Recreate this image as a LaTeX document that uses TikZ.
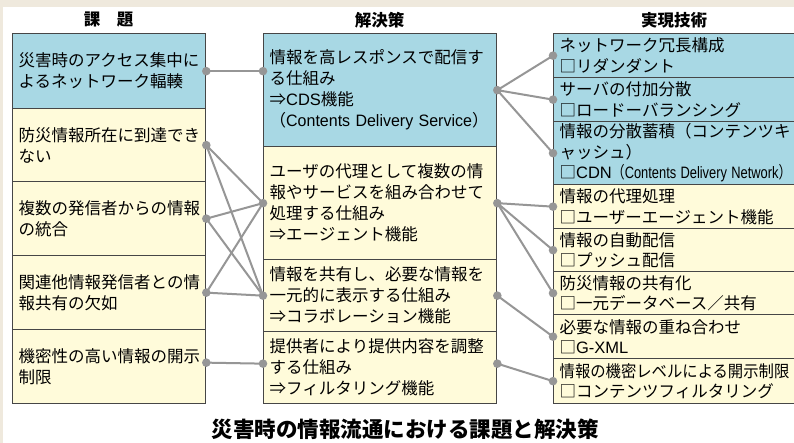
\documentclass[tikz,border=0pt]{standalone}
\usepackage{fontspec}
\setmainfont{Noto Sans CJK JP}
\newfontfamily\lat{Liberation Sans}
\definecolor{bgbeige}{RGB}{239,233,221}
\definecolor{cblue}{RGB}{168,216,228}
\definecolor{cyellow}{RGB}{255,251,218}
\definecolor{boxline}{RGB}{70,70,70}
\definecolor{conngray}{RGB}{150,150,150}
\begin{document}
\begin{tikzpicture}[x=1pt,y=-1pt,
  box/.style={draw=boxline, line width=1.3pt, anchor=north west, inner xsep=6pt, inner ysep=0pt,
    align=left, font=\fontsize{16.5}{21}\selectfont},
  lbox/.style={box, minimum width=193pt, text width=181pt},
  mbox/.style={box, minimum width=233pt, text width=221pt},
  rbox/.style={box, minimum width=250pt, text width=238pt, font=\fontsize{16.5}{20.5}\selectfont},
  head/.style={font=\fontsize{16.5}{20}\selectfont\bfseries},
  conn/.style={draw=conngray, line width=2pt},
  ]
\fill[bgbeige] (0,0) rectangle (794,443);
\fill[white] (3,7) rectangle (794,443);
\useasboundingbox (0,0) rectangle (794,443);

\node[head] (h1) at (108.5,20) {課　題};
\node[head] (h2) at (379.5,20) {解決策};
\node[head] (h3) at (674,20) {実現技術};

\begin{scope}
\clip (0,0) rectangle (794,443);
% left column
\node[lbox, fill=cblue, minimum height=75pt] (L1) at (12,33) {災害時のアクセス集中に\\よるネットワーク輻輳};
\node[lbox, fill=cyellow, minimum height=73pt] (L2) at (12,108) {防災情報所在に到達でき\\ない};
\node[lbox, fill=cyellow, minimum height=74pt] (L3) at (12,181) {複数の発信者からの情報\\の統合};
\node[lbox, fill=cyellow, minimum height=74pt] (L4) at (12,255) {関連他情報発信者との情\\報共有の欠如};
\node[lbox, fill=cyellow, minimum height=74pt] (L5) at (12,329) {機密性の高い情報の開示\\制限};
% middle column
\node[mbox, fill=cblue, minimum height=113pt] (M1) at (263,33) {情報を高レスポンスで配信す\\る仕組み\\⇒{\lat CDS}機能\\\mbox{（\scalebox{0.97}[1]{\lat Contents Delivery Service}）}};
\node[mbox, fill=cyellow, minimum height=113pt] (M2) at (263,146) {ユーザの代理として複数の情\\報やサービスを組み合わせて\\処理する仕組み\\⇒エージェント機能};
\node[mbox, fill=cyellow, minimum height=72pt] (M3) at (263,259) {情報を共有し、必要な情報を\\一元的に表示する仕組み\\⇒コラボレーション機能};
\node[mbox, fill=cyellow, minimum height=72pt] (M4) at (263,331) {提供者により提供内容を調整\\する仕組み\\⇒フィルタリング機能};
% right column
\node[rbox, fill=cblue, minimum height=44pt] (R1) at (553,33) {ネットワーク冗長構成\\□リダンダント};
\node[rbox, fill=cblue, minimum height=44pt] (R2) at (553,77) {サーバの付加分散\\□ロードーバランシング};
\node[rbox, fill=cblue, minimum height=63pt] (R3) at (553,121) {情報の分散蓄積（コンテンツキ\\ャッシュ）\\\mbox{□{\lat CDN}\scalebox{0.78}[1]{（{\lat Contents Delivery Network}）}}};
\node[rbox, fill=cyellow, minimum height=44pt] (R4) at (553,184) {情報の代理処理\\□ユーザーエージェント機能};
\node[rbox, fill=cyellow, minimum height=43pt] (R5) at (553,228) {情報の自動配信\\□プッシュ配信};
\node[rbox, fill=cyellow, minimum height=43pt] (R6) at (553,271) {防災情報の共有化\\□一元データベース／共有};
\node[rbox, fill=cyellow, minimum height=44pt] (R7) at (553,314) {必要な情報の重ね合わせ\\□{\lat G-XML}};
\node[rbox, fill=cyellow, minimum height=45pt] (R8) at (553,358) {\scalebox{0.93}[1]{情報の機密レベルによる開示制限}\\□コンテンツフィルタリング};
\end{scope}

% connector end points
\coordinate (m1l) at (M1.west |- L1.east);
\coordinate (l5r) at ([yshift=4pt]L5.east);
\coordinate (m4l) at ([yshift=4pt]M4.west);
\coordinate (m4r) at ([yshift=4pt]M4.east);

\draw[conn] (L1.east) -- (m1l);
\draw[conn] (L2.east) -- (M2.west);
\draw[conn] (L2.east) -- (M3.west);
\draw[conn] (L3.east) -- (M2.west);
\draw[conn] (L3.east) -- (M3.west);
\draw[conn] (L4.east) -- (M2.west);
\draw[conn] (L4.east) -- (M3.west);
\draw[conn] (l5r) -- (m4l);
\draw[conn] (M1.east) -- (R1.west);
\draw[conn] (M1.east) -- (R2.west);
\draw[conn] (M1.east) -- (R3.west);
\draw[conn] (M2.east) -- (R4.west);
\draw[conn] (M2.east) -- (R5.west);
\draw[conn] (M2.east) -- (R6.west);
\draw[conn] (M3.east) -- (R7.west);
\draw[conn] (m4r) -- (R8.west);

\foreach \p in {L1.east,L2.east,L3.east,L4.east,l5r,m1l,M2.west,M3.west,m4l,
  M1.east,M2.east,M3.east,m4r,R1.west,R2.west,R3.west,R4.west,R5.west,R6.west,R7.west,R8.west}
  \fill[conngray] (\p) circle (4.3pt);

\node[font=\fontsize{21.5}{24}\selectfont\bfseries] (title) at (405,429) {災害時の情報流通における課題と解決策};
\end{tikzpicture}
\end{document}
